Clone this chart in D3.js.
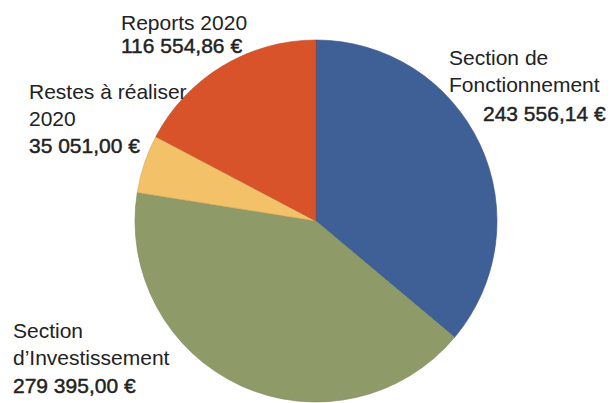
<!DOCTYPE html>
<html>
<head>
<meta charset="utf-8">
<script src="https://cdn.jsdelivr.net/npm/d3@7"></script>
<style>
	html, body { margin: 0; padding: 0; background: #fff; }
	svg { display: block; }
</style>
</head>
<body>
<div id="chart"></div>
<script>
// data
var categories = ["Section de Fonctionnement", "Section d’Investissement", "Restes à réaliser 2020", "Reports 2020"];
var amounts = [243556.14, 279395.00, 35051.00, 116554.86];
var amountLabels = ["243 556,14 €", "279 395,00 €", "35 051,00 €", "116 554,86 €"];
var sliceColors = ["#3f5f97", "#8e9b68", "#f3c268", "#d8522a"];

// label lines per slice (name lines, then value)
var nameLines = [
	["Section de", "Fonctionnement"],
	["Section", "d’Investissement"],
	["Restes à réaliser", "2020"],
	["Reports 2020"]
];

var WIDTH = 612;
var HEIGHT = 403;
var CX = 316;
var CY = 221;
var RADIUS = 181;
var FONT = "'Liberation Sans', Arial, Helvetica, sans-serif";
var TEXT_COLOR = "#222";

// where each label block sits: x, first baseline, baseline of value
var labelPos = [
	{x: 449, y: 65, vx: 483, vy: 121},
	{x: 13, y: 338, vx: 13, vy: 393},
	{x: 29, y: 99, vx: 29, vy: 153},
	{x: 121, y: 30, vx: 121, vy: 53}
];
var LINE_HEIGHT = 27;

var svg = d3.select("#chart").append("svg")
	.attr("width", WIDTH)
	.attr("height", HEIGHT);

var pie = d3.pie().sort(null).value(function(d) { return d; });
var arc = d3.arc().innerRadius(0).outerRadius(RADIUS);

svg.append("g")
	.attr("transform", "translate(" + CX + "," + CY + ")")
	.selectAll("path")
	.data(pie(amounts))
	.enter()
	.append("path")
	.attr("d", arc)
	.attr("fill", function(d, i) { return sliceColors[i]; })
	.attr("stroke", function(d, i) { return d3.color(sliceColors[i]).darker(0.4); })
	.attr("stroke-width", 0.6);

var labels = svg.append("g")
	.attr("font-family", FONT)
	.attr("font-size", 21)
	.attr("fill", TEXT_COLOR);

categories.forEach(function(c, i) {
	var p = labelPos[i];
	nameLines[i].forEach(function(line, j) {
		labels.append("text")
			.attr("x", p.x)
			.attr("y", p.y + j * LINE_HEIGHT)
			.text(line);
	});
	// value, a bit heavier than the name
	labels.append("text")
		.attr("x", p.vx)
		.attr("y", p.vy)
		.attr("stroke", TEXT_COLOR)
		.attr("stroke-width", 0.45)
		.text(amountLabels[i]);
});
</script>
</body>
</html>
